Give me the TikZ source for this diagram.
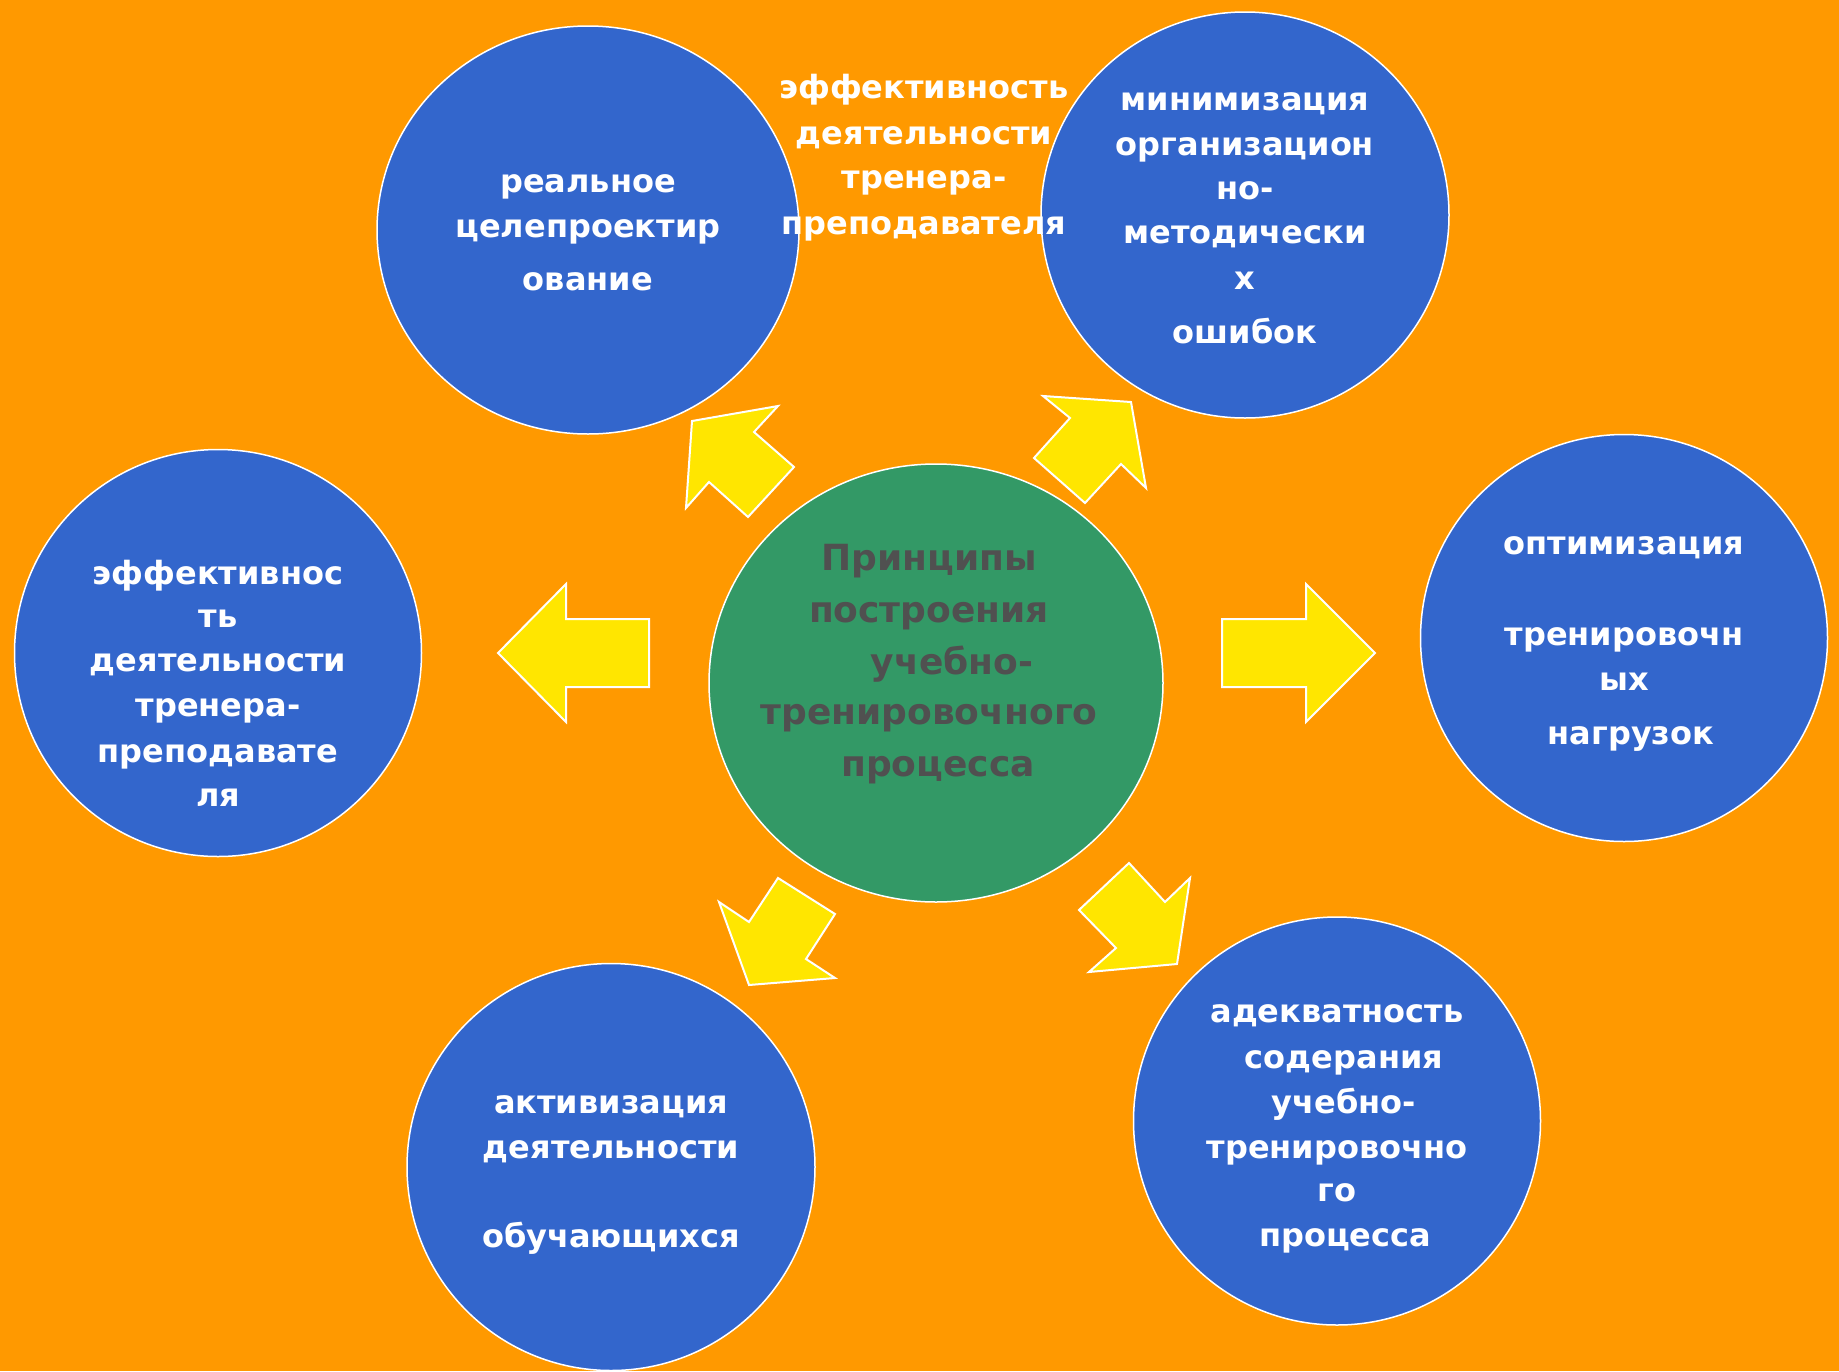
\documentclass[tikz,border=0pt]{standalone}
\usepackage{fontspec}
\setmainfont{DejaVu Sans}
\usetikzlibrary{shapes.geometric}
\definecolor{bg}{HTML}{FF9900}
\definecolor{blu}{HTML}{3366CC}
\definecolor{grn}{HTML}{339966}
\definecolor{yel}{HTML}{FFE600}
\definecolor{dgray}{HTML}{505050}
\begin{document}
\begin{tikzpicture}[x=1pt,y=-1pt,
  bubble/.style={ellipse, draw=white, line width=1.5pt, fill=blu, inner sep=0pt},
  hub/.style={ellipse, draw=white, line width=1.5pt, fill=grn, inner sep=0pt},
  wtxt/.style={text=white, font=\fontsize{32}{40}\selectfont\bfseries, anchor=mid, inner sep=0pt, yshift=-9pt},
  ctxt/.style={text=dgray, font=\fontsize{36}{44}\selectfont\bfseries, anchor=mid, inner sep=0pt, yshift=-9pt},
  blockarrow/.style={fill=yel, draw=white, line width=2pt, line join=miter}]
\useasboundingbox (0,0) rectangle (1839,1371);
\fill[bg] (0,0) rectangle (1839,1371);

% circles
\node[bubble, minimum width=422pt, minimum height=408pt] (tl) at (588,230) {};
\node[bubble, minimum width=408pt, minimum height=406pt] (tr) at (1245,215) {};
\node[bubble, minimum width=407pt, minimum height=407pt] (le) at (218,653) {};
\node[bubble, minimum width=407pt, minimum height=407pt] (ri) at (1624,638) {};
\node[bubble, minimum width=408pt, minimum height=407pt] (bl) at (611,1167) {};
\node[bubble, minimum width=407pt, minimum height=408pt] (br) at (1337,1121) {};
\node[hub, minimum width=454pt, minimum height=438pt] (hub) at (936,683) {};

% block arrows
\draw[blockarrow] (692,421) -- (778,406) -- (754,432) -- (794,467) -- (748,517) -- (709,482) -- (686,508) -- cycle;
\draw[blockarrow] (1043,396) -- (1131,402) -- (1146,488) -- (1121,464) -- (1085,503) -- (1034,458) -- (1070,418) -- cycle;
\draw[blockarrow] (719,902) -- (749,922) -- (778,878) -- (835,914) -- (806,959) -- (835,978) -- (749,985) -- cycle;
\draw[blockarrow] (1129,863) -- (1165,902) -- (1190,878) -- (1177,964) -- (1089,972) -- (1116,948) -- (1079,910) -- cycle;
\draw[blockarrow] (498,653) -- (566,584) -- (566,619) -- (649,619) -- (649,687) -- (566,687) -- (566,722) -- cycle;
\draw[blockarrow] (1375,653) -- (1306,584) -- (1306,619) -- (1222,619) -- (1222,687) -- (1306,687) -- (1306,722) -- cycle;

% texts: top-left
\node[wtxt] (tl1) at (588,181) {реальное};
\node[wtxt] (tl2) at (588,226) {целепроектир};
\node[wtxt] (tl3) at (588,279) {ование};
% top free text
\node[wtxt] (tp1) at (924,87) {эффективность};
\node[wtxt] (tp2) at (924,133) {деятельности};
\node[wtxt] (tp3) at (924,177) {тренера-};
\node[wtxt] (tp4) at (924,223) {преподавателя};
% top-right
\node[wtxt] (tr1) at (1245,99) {минимизация};
\node[wtxt] (tr2) at (1245,144) {организацион};
\node[wtxt] (tr3) at (1245,188) {но-};
\node[wtxt] (tr4) at (1245,232) {методически};
\node[wtxt] (tr5) at (1245,278) {х};
\node[wtxt] (tr6) at (1245,332) {ошибок};
% left
\node[wtxt] (le1) at (218,573) {эффективнос};
\node[wtxt] (le2) at (218,616) {ть};
\node[wtxt] (le3) at (218,660) {деятельности};
\node[wtxt] (le4) at (218,705) {тренера-};
\node[wtxt] (le5) at (218,751) {преподавате};
\node[wtxt] (le6) at (218,795) {ля};
% right
\node[wtxt] (ri1) at (1624,543) {оптимизация};
\node[wtxt] (ri2) at (1624,634) {тренировочн};
\node[wtxt] (ri3) at (1624,679) {ых};
\node[wtxt] (ri4) at (1631,733) {нагрузок};
% bottom-left
\node[wtxt] (bl1) at (611,1102) {активизация};
\node[wtxt] (bl2) at (611,1147) {деятельности};
\node[wtxt] (bl3) at (611,1236) {обучающихся};
% bottom-right
\node[wtxt] (br1) at (1337,1011) {адекватность};
\node[wtxt] (br2) at (1344,1057) {содерания};
\node[wtxt] (br3) at (1344,1102) {учебно-};
\node[wtxt] (br4) at (1337,1147) {тренировочно};
\node[wtxt] (br5) at (1337,1190) {го};
\node[wtxt] (br6) at (1345,1235) {процесса};
% center
\node[ctxt] (c1) at (929,559) {Принципы};
\node[ctxt] (c2) at (929,611) {построения};
\node[ctxt] (c3) at (952,663) {учебно-};
\node[ctxt] (c4) at (929,713) {тренировочного};
\node[ctxt] (c5) at (938,765) {процесса};
\end{tikzpicture}
\end{document}
